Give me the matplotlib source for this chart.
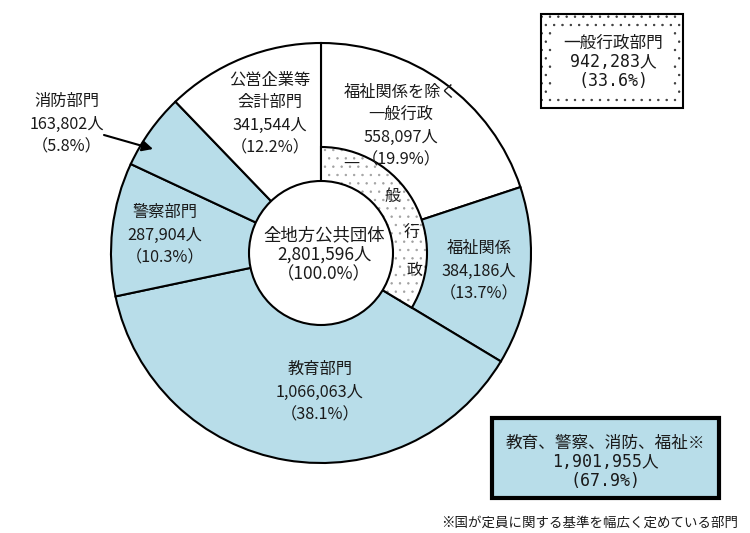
import matplotlib
matplotlib.use("Agg")
import matplotlib.pyplot as plt
from matplotlib.patches import Wedge, Circle, Rectangle

plt.rcParams['font.family'] = ['Noto Sans CJK JP', 'DejaVu Sans']
plt.rcParams['hatch.linewidth'] = 0.5

# ---- data ----
categories = ['福祉関係を除く\n一般行政', '福祉関係', '教育部門', '警察部門', '消防部門', '公営企業等\n会計部門']
values = [558097, 384186, 1066063, 287904, 163802, 341544]
is_blue = [False, True, True, True, True, False]
total_label = '全地方公共団体'
general_admin_label = '一般行政部門'
general_admin_parts = 2          # first two slices form 一般行政
blue_box_label = '教育、警察、消防、福祉※'
footnote = '※国が定員に関する基準を幅広く定めている部門'

W, H = 750, 533
BLUE = '#b8dde9'
TXT = '#1a1a1a'

def P(y):
    return H - y

fig = plt.figure(figsize=(W / 100, H / 100), dpi=100)
ax = fig.add_axes([0, 0, 1, 1])

cx, cy = 321, P(253)
R_out, R_ring, R_in = 210, 106, 72

total = sum(values)
colors = [BLUE if b else 'white' for b in is_blue]
ax.pie(values, colors=colors, startangle=90, counterclock=False,
       center=(cx, cy), radius=R_out,
       wedgeprops=dict(edgecolor='black', linewidth=1.5))

# inner dotted ring for 一般行政
ga_total = sum(values[:general_admin_parts])
ga_frac = ga_total / total
t1, t2 = 90 - 360 * ga_frac, 90
ax.add_patch(Wedge((cx, cy), R_ring, t1, t2, facecolor='white',
                   edgecolor='#a0a0a0', hatch='..', linewidth=0, zorder=3))
ax.add_patch(Wedge((cx, cy), R_ring, t1, t2, facecolor='none',
                   edgecolor='black', linewidth=1.5, zorder=4))
ax.add_patch(Circle((cx, cy), R_in, facecolor='white', edgecolor='black',
                    linewidth=1.5, zorder=5))

def fmt(v):
    return f'{v:,}人'

def pct(v):
    return f'（{v / total * 100:.1f}%）'

def draw_lines(lines, x, y, step, **kw):
    n = len(lines)
    for i, s in enumerate(lines):
        yy = y + (i - (n - 1) / 2) * step
        ax.text(x, P(yy), s, ha='center', va='center', color=TXT, zorder=6, **kw)

label_pos = [(401, 126), (479, 271), (320, 392), (165, 235), (67, 124), (270, 114)]
for cat, v, (x, y) in zip(categories, values, label_pos):
    lines = cat.split('\n') + [fmt(v), pct(v)]
    draw_lines(lines, x, y, 22.7, fontsize=11.7)

# arrow for 消防部門
ax.annotate('', xy=(153, P(149)), xytext=(104, P(135)),
            arrowprops=dict(arrowstyle='-|>', color='black', lw=1.5,
                            mutation_scale=16, shrinkA=0, shrinkB=0), zorder=6)

# center text
draw_lines([total_label, fmt(total), f'（{100:.1f}%）'], 324, 255, 19.5, fontsize=12.5)

# vertical characters on ring
ring_chars = ['一', '般', '行', '政']
ring_pos = [(351, 164), (392, 196), (412, 233), (415, 271)]
for ch, (x, y) in zip(ring_chars, ring_pos):
    ax.text(x, P(y), ch, ha='center', va='center', fontsize=11.5, color=TXT, zorder=6)

mono = ['DejaVu Sans Mono', 'Noto Sans CJK JP']

# top-right box (dotted frame, white interior)
ax.add_patch(Rectangle((541, P(108)), 142, 94, facecolor='white', edgecolor='#333333',
                       hatch='..', linewidth=0, zorder=3))
ax.add_patch(Rectangle((552, P(94)), 120, 66, facecolor='white', edgecolor='none',
                       linewidth=0, zorder=3.5))
ax.add_patch(Rectangle((541, P(108)), 142, 94, facecolor='none', edgecolor='black',
                       linewidth=1.5, zorder=4))
ax.text(613, P(62), f'{general_admin_label}\n{ga_total:,}人\n({ga_frac * 100:.1f}%)',
        ha='center', va='center', fontsize=12, color=TXT, linespacing=1.08,
        family=mono, zorder=6)

# bottom-right box
blue_total = sum(v for v, b in zip(values, is_blue) if b)
ax.add_patch(Rectangle((492, P(498)), 227, 80, facecolor=BLUE, edgecolor='black',
                       linewidth=3, zorder=3))
ax.text(605, P(462), f'{blue_box_label}\n{blue_total:,}人\n({blue_total / total * 100:.1f}%)',
        ha='center', va='center', fontsize=12, color=TXT, linespacing=1.05,
        family=mono, zorder=6)

ax.text(738, P(523), footnote, ha='right', va='center', fontsize=9.7, color=TXT)

ax.set_xlim(0, W)
ax.set_ylim(0, H)
ax.set_aspect('equal')
ax.axis('off')

fig.savefig('out.png', dpi=100, facecolor='white')
